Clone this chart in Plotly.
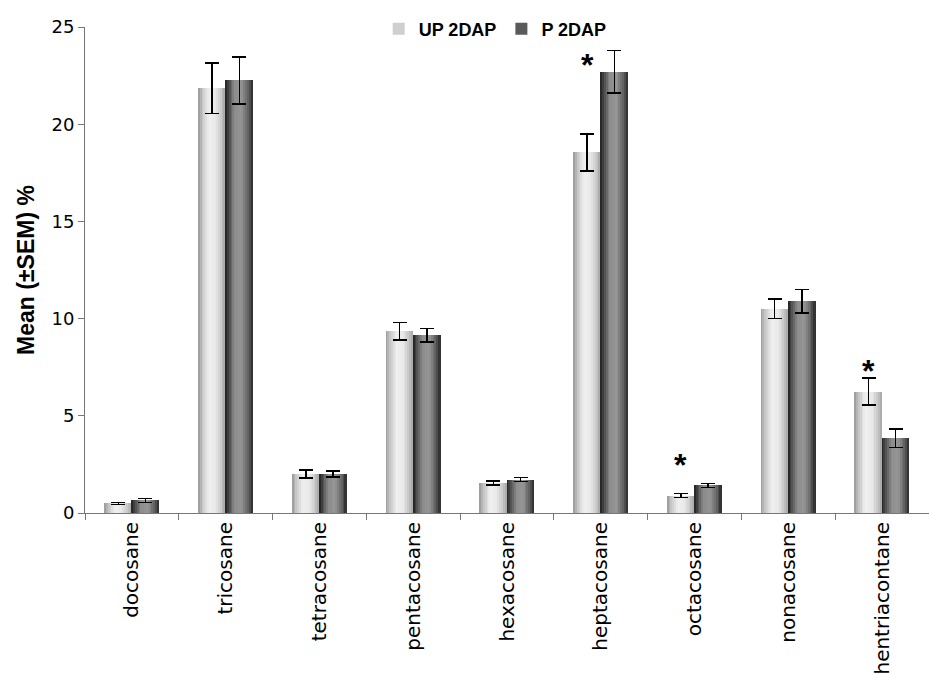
import plotly.graph_objects as go

# Alkane composition, mean and SEM per compound
compounds = ["docosane", "tricosane", "tetracosane", "pentacosane", "hexacosane",
             "heptacosane", "octacosane", "nonacosane", "hentriacontane"]
up_mean = [0.50, 21.85, 2.00, 9.35, 1.55, 18.55, 0.90, 10.50, 6.25]
up_sem = [0.05, 1.30, 0.20, 0.45, 0.10, 0.95, 0.10, 0.50, 0.70]
p_mean = [0.65, 22.25, 2.00, 9.15, 1.72, 22.70, 1.42, 10.90, 3.85]
p_sem = [0.10, 1.20, 0.15, 0.35, 0.10, 1.10, 0.10, 0.60, 0.48]
significant = ["heptacosane", "octacosane", "hentriacontane"]

BAR_W = 0.29      # width of one bar in category units
N_STRIPS = 15     # vertical strips used to shade each bar


def lerp_profile(t, pts):
    for (t0, v0), (t1, v1) in zip(pts, pts[1:]):
        if t0 <= t <= t1:
            return v0 + (v1 - v0) * (t - t0) / (t1 - t0)
    return pts[-1][1]


up_profile = [(0, 150), (0.15, 195), (0.4, 240), (0.65, 232), (0.85, 200), (1, 165)]
p_profile = [(0, 30), (0.12, 70), (0.35, 140), (0.6, 150), (0.85, 95), (1, 40)]

fig = go.Figure()

for name, mean, sem, profile, start, legend_col in [
    ("UP 2DAP", up_mean, up_sem, up_profile, -BAR_W, "#cfcfcf"),
    ("P 2DAP", p_mean, p_sem, p_profile, 0.0, "#5a5a5a"),
]:
    sw = BAR_W / N_STRIPS
    for k in range(N_STRIPS):
        t = (k + 0.5) / N_STRIPS
        g = int(round(lerp_profile(t, profile)))
        fig.add_trace(go.Bar(
            x=compounds, y=mean,
            offset=start + k * sw, width=sw * 1.08,
            marker=dict(color=f"rgb({g},{g},{g})", line=dict(width=0)),
            showlegend=False, hoverinfo="skip",
        ))
    # full-width transparent bar carrying the error bars
    fig.add_trace(go.Bar(
        x=compounds, y=mean, offset=start, width=BAR_W,
        marker=dict(color="rgba(0,0,0,0)", line=dict(width=0)),
        error_y=dict(type="data", array=sem, visible=True,
                     color="black", thickness=1.5, width=7),
        showlegend=False,
    ))
    # legend entry
    fig.add_trace(go.Bar(
        x=[compounds[0]], y=[None], name=name,
        marker=dict(color=legend_col, line=dict(width=0)),
        showlegend=True,
    ))

# significance markers above the UP bars (label heights in axis units)
star_level = {"heptacosane": 23.3, "octacosane": 2.75, "hentriacontane": 7.55}
for c in significant:
    i = compounds.index(c)
    fig.add_annotation(
        x=i - BAR_W / 2, y=star_level[c],
        text="<b>*</b>", showarrow=False, yanchor="middle", yshift=-5,
        font=dict(size=32, color="black", family="Liberation Sans"),
    )

fig.update_layout(
    width=929, height=675,
    margin=dict(l=85, r=0, t=27, b=162, autoexpand=False),
    paper_bgcolor="white", plot_bgcolor="white",
    barmode="overlay",
    bargap=0,
    font=dict(family="DejaVu Sans", color="black"),
    legend=dict(
        orientation="h", x=0.486, xanchor="center",
        yref="container", y=1 - 29 / 675, yanchor="middle",
        font=dict(family="Liberation Sans", size=18, color="black", weight="bold"),
        itemwidth=30, traceorder="normal", bgcolor="rgba(0,0,0,0)",
        itemsizing="constant",
    ),
    xaxis=dict(
        type="category", range=[-0.5, 8.5],
        showline=True, linecolor="#777", linewidth=1,
        ticks="outside", tickson="boundaries", ticklen=6, tickcolor="#777",
        tickangle=-90, showgrid=False,
        tickfont=dict(family="DejaVu Sans", size=20, color="black"),
    ),
    yaxis=dict(
        range=[0, 25], tickvals=[0, 5, 10, 15, 20, 25],
        showline=True, linecolor="#777", linewidth=1,
        ticks="outside", ticklen=6, tickcolor="#777",
        showgrid=False, zeroline=False,
        tickfont=dict(family="DejaVu Sans", size=18, color="black"),
        title=dict(text="<b>Mean (±SEM) %</b>", standoff=10,
                   font=dict(family="Liberation Sans", size=23, color="black")),
    ),
)

fig.write_html("out.html")
